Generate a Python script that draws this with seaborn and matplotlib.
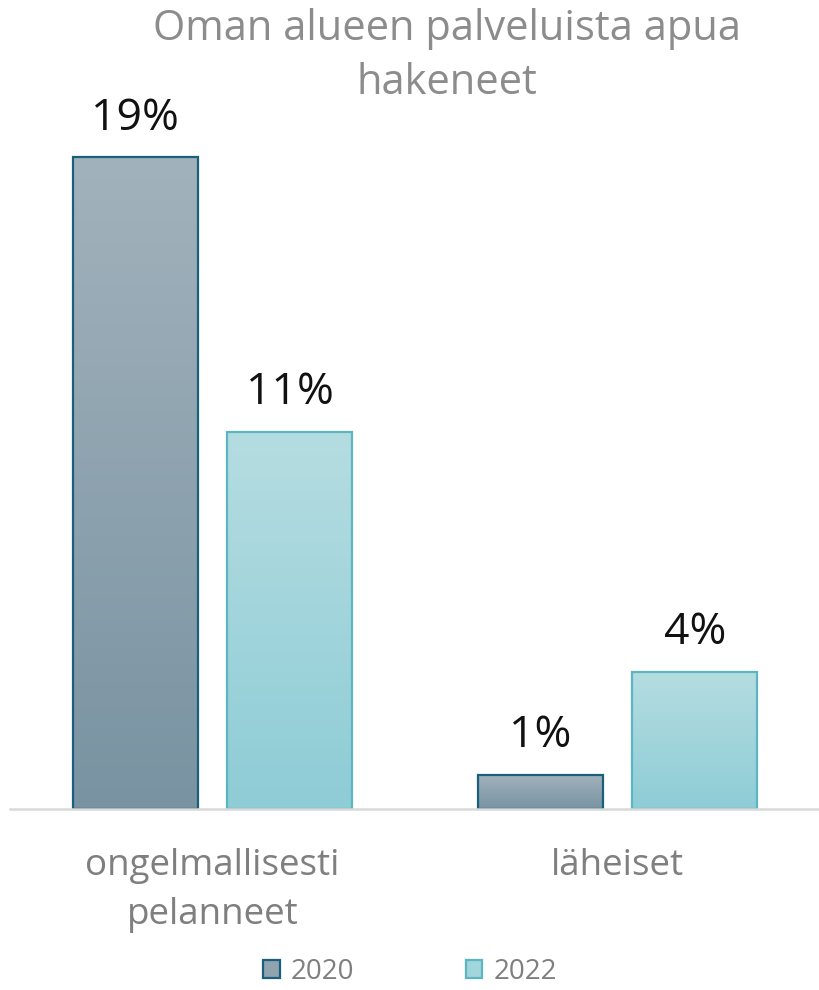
import numpy as np
import pandas as pd
import matplotlib
matplotlib.use("Agg")
import matplotlib.pyplot as plt
import matplotlib.colors as mcolors
from matplotlib.patches import Patch
import seaborn as sns

categories = ["ongelmallisesti\npelanneet", "läheiset"]
years = ["2020", "2022"]
values_2020 = [19, 1]
values_2022 = [11, 4]
title = "Oman alueen palveluista apua\nhakeneet"

df = pd.DataFrame({
    "category": categories * 2,
    "year": [years[0]] * 2 + [years[1]] * 2,
    "value": values_2020 + values_2022,
})

sns.set_theme(style="white")
plt.rcParams["font.family"] = ["Open Sans", "DejaVu Sans"]

grad = {
    "2020": ("#A2B2BC", "#7993A2"),
    "2022": ("#B5DDE1", "#8ECCD6"),
}
edges = {"2020": "#1B607A", "2022": "#5BB6C1"}
mid = {"2020": "#8FA3B0", "2022": "#A3D5DC"}

fig = plt.figure(figsize=(8.2, 9.9), dpi=100)
ax = fig.add_axes([10 / 820, 1 - 809 / 990, 810 / 820, 709 / 990])

sns.barplot(data=df, x="category", y="value", hue="year", hue_order=years,
            order=categories, width=0.765, gap=0.193, ax=ax, legend=False,
            palette=[mid["2020"], mid["2022"]], saturation=1)

ax.set_ylim(0, 709 / 34.3)
ax.set_xlim(-0.5, 1.5)

for container, yr in zip(ax.containers, years):
    top_c, bot_c = grad[yr]
    cmap = mcolors.LinearSegmentedColormap.from_list("g" + yr, [bot_c, top_c])
    for p in container.patches:
        x0, y0 = p.get_x(), p.get_y()
        w, h = p.get_width(), p.get_height()
        img = np.linspace(0, 1, 256).reshape(-1, 1)
        im = ax.imshow(img, cmap=cmap, origin="lower", aspect="auto",
                       extent=[x0, x0 + w, y0, y0 + h], zorder=p.get_zorder())
        im.set_clip_path(p)
        p.set_facecolor("none")
        p.set_edgecolor(edges[yr])
        p.set_linewidth(1.6)
        p.set_zorder(p.get_zorder() + 0.5)
    ax.bar_label(container, labels=[f"{v:g}%" for v in container.datavalues],
                 padding=12, fontsize=32, color="#111111")

ax.set_aspect("auto")
ax.set_xlim(-0.5, 1.5)
ax.set_ylim(0, 709 / 34.3)

for s in ["top", "right", "left"]:
    ax.spines[s].set_visible(False)
ax.spines["bottom"].set_color("#D9D9D9")
ax.spines["bottom"].set_linewidth(1.8)
ax.set_yticks([])
ax.set_xlabel("")
ax.set_ylabel("")
ax.tick_params(axis="x", length=0, pad=28, labelsize=26.5, labelcolor="#7F7F7F")
ax.set_xticks(range(len(categories)))
ax.set_xticklabels(categories, linespacing=1.5)

fig.text(0.545, 1 - 56 / 990, title, ha="center", va="center", fontsize=30,
         color="#8C8C8C", linespacing=1.4)

handles = [Patch(facecolor=mid[y], edgecolor=edges[y], linewidth=1.6, label=y) for y in years]
fig.legend(handles=handles, loc="center", bbox_to_anchor=(0.5, 1 - 972 / 990), ncol=2,
           frameon=False, fontsize=20, labelcolor="#7F7F7F", handlelength=0.6,
           handleheight=0.6, handletextpad=0.4, columnspacing=4.0,
           borderpad=0, borderaxespad=0)

fig.savefig("out.png", dpi=100)
